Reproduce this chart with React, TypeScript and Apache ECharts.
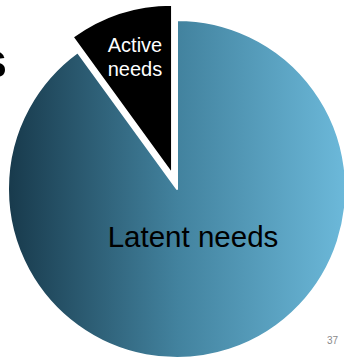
import React, { useEffect, useRef } from "react";
import * as echarts from "echarts";

const categories = ["Latent needs", "Active needs"];
const values = [90, 10];
const sliceLabels = ["Latent needs", "Active\nneeds"];
const pageNumber = "37";

export default function App() {
  const ref = useRef<HTMLDivElement>(null);
  useEffect(() => {
    if (!ref.current) return;
    const chart = echarts.init(ref.current, null, { renderer: "svg" });
    const gradient = new echarts.graphic.LinearGradient(0, 0, 1, 0, [
      { offset: 0, color: "#183a4c" },
      { offset: 0.5, color: "#42829e" },
      { offset: 1, color: "#6cb9da" },
    ]);
    chart.setOption({
      animation: false,
      backgroundColor: "#ffffff",
      series: [
        {
          type: "pie",
          center: [177, 189],
          radius: [0, 169],
          startAngle: 90,
          clockwise: true,
          selectedMode: "single",
          selectedOffset: 16,
          silent: true,
          z: 2,
          label: { show: false },
          labelLine: { show: false },
          itemStyle: { borderColor: "#ffffff", borderWidth: 2 },
          data: categories.map((c, i) => ({
            name: c,
            value: values[i],
            selected: i === 1,
            itemStyle: { color: i === 0 ? gradient : "#000000" },
          })),
        },
      ],
      graphic: {
        elements: [
          {
            type: "text",
            x: 193,
            y: 236,
            z: 100,
            zlevel: 1,
            style: {
              text: sliceLabels[0],
              font: "29.5px 'Liberation Sans', Arial, sans-serif",
              fill: "#000000",
              align: "center",
              verticalAlign: "middle",
            },
          },
          {
            type: "text",
            x: 135,
            y: 57,
            z: 100,
            zlevel: 1,
            style: {
              text: sliceLabels[1],
              font: "20px 'Liberation Sans', Arial, sans-serif",
              lineHeight: 24,
              fill: "#ffffff",
              align: "center",
              verticalAlign: "middle",
            },
          },
          {
            type: "text",
            x: 7,
            y: 61,
            z: 100,
            zlevel: 1,
            style: {
              text: "s",
              font: "bold 50px 'Liberation Sans', Arial, sans-serif",
              fill: "#000000",
              align: "right",
              verticalAlign: "middle",
            },
          },
          {
            type: "text",
            x: 338,
            y: 340,
            z: 100,
            zlevel: 1,
            style: {
              text: pageNumber,
              font: "10px 'Liberation Sans', Arial, sans-serif",
              fill: "#8a8a8a",
              align: "right",
              verticalAlign: "middle",
            },
          },
        ],
      },
    });
    return () => chart.dispose();
  }, []);
  return (
    <div
      ref={ref}
      style={{ position: "absolute", left: 0, top: 0, width: 344, height: 360 }}
    />
  );
}
